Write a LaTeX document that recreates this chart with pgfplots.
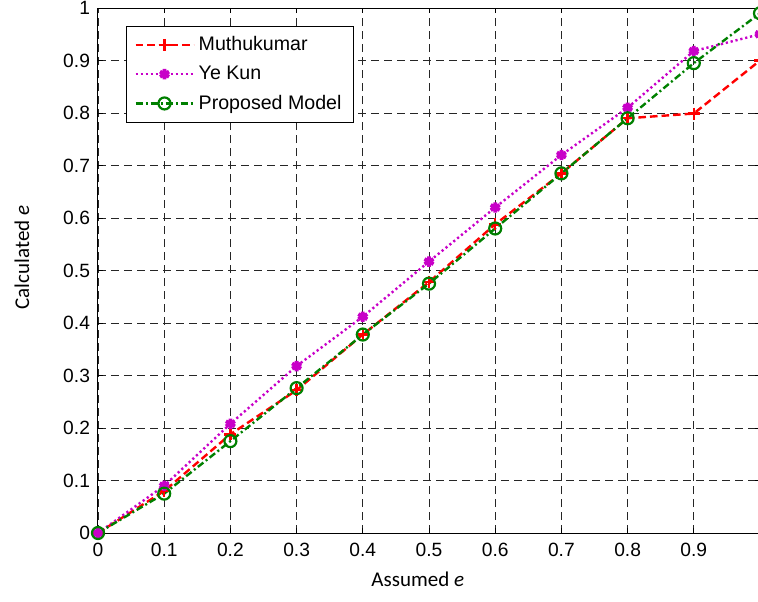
\documentclass[border=0pt]{standalone}
\usepackage{pgfplots}
\pgfplotsset{compat=1.18}
\usepackage{fontspec}
\setmainfont{Liberation Sans}
\newfontfamily\labelfont{Carlito}
\usetikzlibrary{calc}
\definecolor{mred}{RGB}{255,0,0}
\definecolor{mmag}{RGB}{200,0,200}
\definecolor{mgreen}{RGB}{0,128,0}
\begin{document}
\begin{tikzpicture}
\begin{axis}[
  scale only axis,
  width=331pt, height=262.5pt,
  xmin=0, xmax=1, ymin=0, ymax=1,
  xtick={0,0.1,0.2,0.3,0.4,0.5,0.6,0.7,0.8,0.9,1},
  xticklabels={0,0.1,0.2,0.3,0.4,0.5,0.6,0.7,0.8,0.9,},
  ytick={0,0.1,0.2,0.3,0.4,0.5,0.6,0.7,0.8,0.9,1},
  yticklabels={0,0.1,0.2,0.3,0.4,0.5,0.6,0.7,0.8,0.9,1},
  tick label style={font=\fontsize{9.6}{11}\selectfont},
  xticklabel style={yshift=-1.5pt},
  yticklabel style={xshift=-0.5pt},
  tick align=inside,
  major tick length=2.5pt,
  tick style={black, line width=0.5pt},
  axis line style={line width=0.5pt},
  grid=major,
  major grid style={black!85, line width=0.45pt, dash pattern=on 4pt off 2.5pt},
  xlabel={\labelfont Assumed \textit{e}},
  ylabel={\labelfont Calculated \textit{e}},
  label style={font=\fontsize{10.5}{12}\selectfont},
  xlabel style={at={(rel axis cs:0.483,-0.088)}, anchor=center},
  ylabel style={at={(rel axis cs:-0.115,0.525)}, anchor=center, rotate=0},
  legend style={at={(rel axis cs:0.042,0.966)}, anchor=north west,
    font=\fontsize{9.8}{11.5}\selectfont, draw=black, line width=0.5pt,
    row sep=2.2pt, inner xsep=4pt, inner ysep=3pt},
  legend cell align=left,
  legend image code/.code={
    \draw[#1] (0cm,0cm) -- (29pt,0cm);
    \draw[#1] plot coordinates {(14.5pt,0cm)};
  },
  clip=true,
]
\addplot[mred, line width=1.2pt, dash pattern=on 3.8pt off 2pt,
  mark=+, mark size=3pt, mark options={solid, line width=1.2pt}]
  coordinates {(0,0) (0.1,0.08) (0.2,0.188) (0.3,0.272) (0.4,0.378) (0.5,0.478)
  (0.6,0.588) (0.7,0.685) (0.8,0.790) (0.9,0.799) (1.0,0.900)};
\addlegendentry{Muthukumar}
\addplot[mmag, line width=1.2pt, dash pattern=on 1.1pt off 1.4pt,
  mark=asterisk, mark size=2.6pt, mark options={solid, line width=1.9pt}]
  coordinates {(0,0) (0.1,0.09) (0.2,0.208) (0.3,0.318) (0.4,0.412) (0.5,0.517)
  (0.6,0.620) (0.7,0.720) (0.8,0.810) (0.9,0.918) (1.0,0.950)};
\addlegendentry{Ye Kun}
\addplot[mgreen, line width=1.2pt, dash pattern=on 3.5pt off 1.5pt on 1pt off 1.5pt,
  mark=o, mark size=3pt, mark options={solid, line width=1.1pt}]
  coordinates {(0,0) (0.1,0.075) (0.2,0.175) (0.3,0.276) (0.4,0.378) (0.5,0.475)
  (0.6,0.580) (0.7,0.685) (0.8,0.790) (0.9,0.895) (1.0,0.990)};
\addlegendentry{Proposed Model}
\end{axis}
\pgfresetboundingbox
\useasboundingbox ($(current axis.south west)+(-49pt,-34pt)$) rectangle ($(current axis.north east)+(-1pt,4pt)$);
\end{tikzpicture}
\end{document}
